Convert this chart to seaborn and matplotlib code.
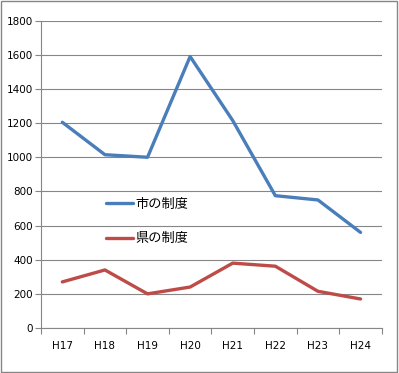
import pandas as pd
import seaborn as sns
import matplotlib.pyplot as plt
from matplotlib.patches import Rectangle

years = ["H17", "H18", "H19", "H20", "H21", "H22", "H23", "H24"]
city = [1205, 1015, 1000, 1590, 1215, 775, 750, 560]
pref = [270, 340, 200, 240, 380, 362, 215, 170]
series_names = ["市の制度", "県の制度"]

df = pd.DataFrame({
    "year": years * 2,
    "value": city + pref,
    "series": [series_names[0]] * len(years) + [series_names[1]] * len(years),
})

sns.set_style("white")
plt.rcParams["font.family"] = ["DejaVu Sans"]
plt.rcParams["text.color"] = "black"
plt.rcParams["xtick.labelcolor"] = "black"
plt.rcParams["ytick.labelcolor"] = "black"

fig = plt.figure(figsize=(3.99, 3.73), dpi=100)
ax = fig.add_axes([0.1028, 0.1206, 0.8542, 0.824])

grid_c = "#868686"
sns.lineplot(data=df, x="year", y="value", hue="series",
             palette=["#4A7EBB", "#BE4B48"], linewidth=2.4, ax=ax)

ax.set_ylim(0, 1800)
ax.set_yticks(range(0, 1801, 200))
ax.set_xlim(-0.5, len(years) - 0.5)
ax.set_xticks(range(len(years)))
ax.set_xticklabels(years)
ax.set_xticks([i - 0.5 for i in range(len(years) + 1)], minor=True)
ax.grid(axis="y", color=grid_c, linewidth=0.8)
ax.set_axisbelow(True)
ax.set_xlabel("")
ax.set_ylabel("")

for s in ["top", "right"]:
    ax.spines[s].set_visible(False)
for s in ["left", "bottom"]:
    ax.spines[s].set_color(grid_c)
    ax.spines[s].set_linewidth(0.8)

ax.tick_params(axis="y", which="major", length=4, color=grid_c, width=0.8,
               labelsize=7.5, pad=2, left=True, labelcolor="black")
ax.tick_params(axis="x", which="major", length=0, labelsize=7.5, pad=9,
               labelcolor="black")
ax.tick_params(axis="x", which="minor", length=4, color=grid_c, width=0.8,
               bottom=True)

leg = ax.legend(loc="upper left", bbox_to_anchor=(0.157, 0.462),
                frameon=False, handlelength=2.0, handletextpad=0.2,
                labelspacing=1.62, prop={"family": "Noto Sans CJK JP", "size": 9.5})
for ln in leg.get_lines():
    ln.set_linewidth(2.4)
for t in leg.get_texts():
    t.set_color("black")

fig.patches.append(Rectangle((0.002, 0.002), 0.994, 0.994, transform=fig.transFigure,
                             fill=False, edgecolor=grid_c, linewidth=1.0))

fig.savefig("out.png", dpi=100)
